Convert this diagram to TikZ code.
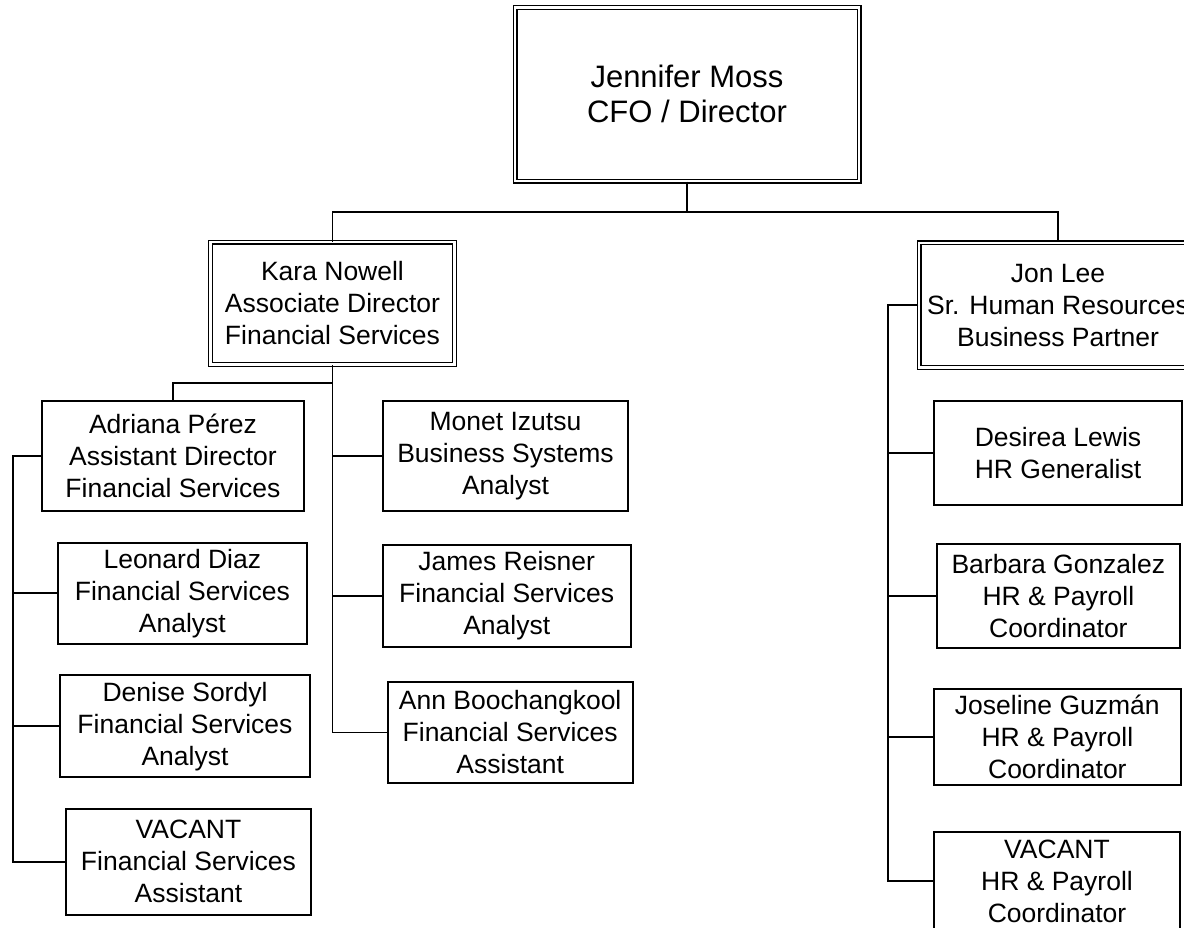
\documentclass[tikz,border=0pt]{standalone}
\usepackage{fontspec}
\setmainfont{Liberation Sans}
\begin{document}
\begin{tikzpicture}[x=1pt,y=-1pt,
  box/.style={draw, line width=1.8pt, align=center, inner sep=2pt, fill=white,
    font=\fontsize{26.5}{32}\selectfont},
  dbox/.style={draw, double, double distance=2.4pt, line width=1.3pt, align=center, inner sep=2pt,
    font=\fontsize{26.5}{32}\selectfont},
  conn/.style={line width=1.8pt}]
\useasboundingbox (0,0) rectangle (1184,927);
\clip (0,0) rectangle (1184,927);

% top
\node[dbox, minimum width=344, minimum height=173.5, font=\fontsize{31}{35}\selectfont] (J) at (687,94.25) {Jennifer Moss\\CFO / Director};
\node[dbox, minimum width=244, minimum height=122.3] (K) at (332.5,303.4) {Kara Nowell\\Associate Director\\Financial Services};
\node[dbox, minimum width=278, minimum height=124.7] (L) at (1058,305.3) {Jon Lee\\Sr. Human Resources\\Business Partner};

% Kara's reports
\node[box, minimum width=262.6, minimum height=109.7] (A) at (173,455.9) {Adriana Pérez\\Assistant Director\\Financial Services};
\node[box, minimum width=249.3, minimum height=101.3] (LD) at (182.35,593.35) {Leonard Diaz\\Financial Services\\Analyst};
\node[box, minimum width=249.4, minimum height=101.7] (DS) at (185,726.15) {Denise Sordyl\\Financial Services\\Analyst};
\node[box, minimum width=245, minimum height=106.3] (VF) at (188.5,861.85) {VACANT\\Financial Services\\Assistant};
\node[box, minimum width=245.6, minimum height=109.7] (MI) at (505.5,455.85) {Monet Izutsu\\Business Systems\\Analyst};
\node[box, minimum width=248, minimum height=101.7] (JR) at (506.7,595.85) {James Reisner\\Financial Services\\Analyst};
\node[box, minimum width=245, minimum height=101.6] (AB) at (510.2,732.5) {Ann Boochangkool\\Financial Services\\Assistant};

% Jon's reports
\node[box, minimum width=247.4, minimum height=104] (DL) at (1058,453) {Desirea Lewis\\HR Generalist};
\node[box, minimum width=243.3, minimum height=103.4] (BG) at (1058.35,596) {Barbara Gonzalez\\HR \& Payroll\\Coordinator};
\node[box, minimum width=246.7, minimum height=96] (JG) at (1057.35,737) {Joseline Guzmán\\HR \& Payroll\\Coordinator};
\node[box, minimum width=246, minimum height=97.4] (VH) at (1057,881) {VACANT\\HR \& Payroll\\Coordinator};

% bus coordinates
\coordinate (jbus) at (687,212.3);
\coordinate (kbus) at (332.5,382.7);
\coordinate (abus) at (13,455.9);
\coordinate (lbus) at (888.3,305.3);

\draw[conn] (J.south) -- (jbus);
\draw[conn] (K.north) |- (jbus) -| (L.north);

\draw[conn] (K.south) |- (AB.west);
\draw[conn] (kbus) -| (A.north);
\draw[conn] (K.south) |- (MI.west);
\draw[conn] (K.south) |- (JR.west);

\draw[conn] (A.west) -- (abus) |- (VF.west);
\draw[conn] (abus) |- (LD.west);
\draw[conn] (abus) |- (DS.west);

\draw[conn] (L.west) -- (lbus) |- (VH.west);
\draw[conn] (lbus) |- (DL.west);
\draw[conn] (lbus) |- (BG.west);
\draw[conn] (lbus) |- (JG.west);
\end{tikzpicture}
\end{document}
